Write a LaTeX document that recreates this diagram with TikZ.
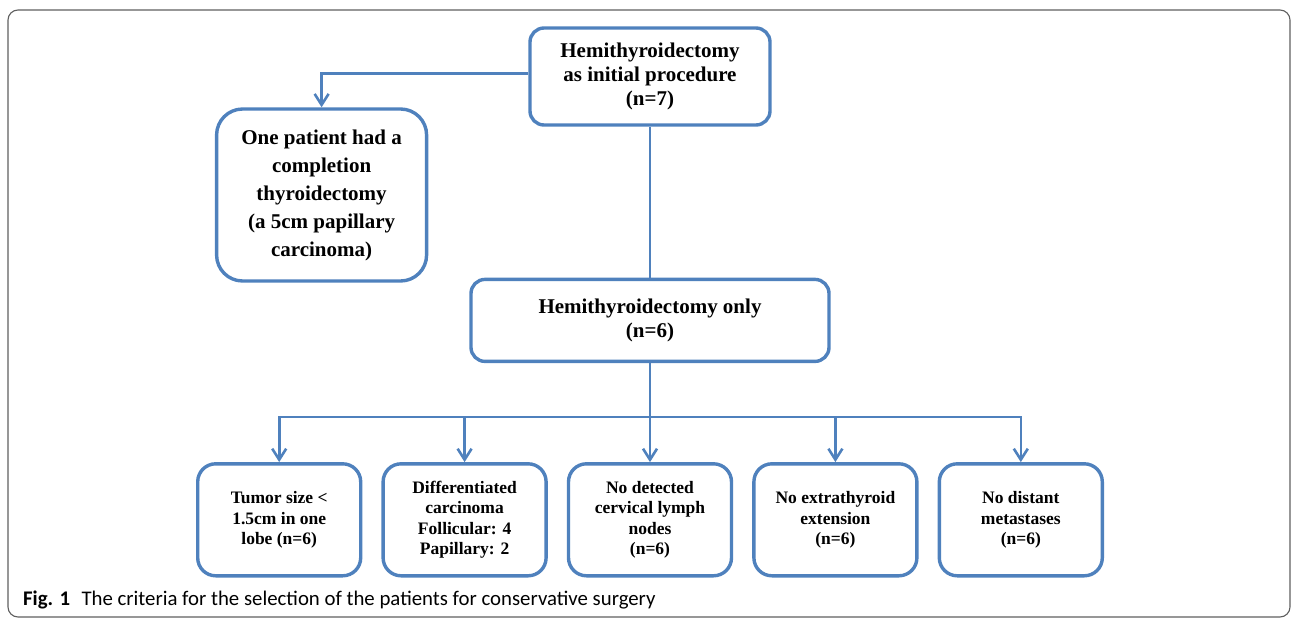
\documentclass[tikz,border=0pt]{standalone}
\usepackage{fontspec}
\setmainfont{Liberation Serif}
\newfontfamily\capfont{Carlito}
\usetikzlibrary{positioning, arrows.meta}

\definecolor{boxblue}{RGB}{79,129,189}
\definecolor{framegray}{RGB}{95,95,95}

\tikzset{
    box/.style={draw=boxblue, line width=3.4pt, rounded corners=14pt, fill=white,
        align=center, inner sep=0pt, font=\bfseries\fontsize{21}{24}\selectfont},
    smallbox/.style={box, minimum width=163pt, minimum height=112pt, rounded corners=18pt,
        font=\bfseries\fontsize{17.5}{20.5}\selectfont},
    link/.style={draw=boxblue, line width=2.6pt},
}

\begin{document}
\begin{tikzpicture}[x=1pt, y=-1pt, >={Straight Barb[length=11pt,width=14pt]}]
        \useasboundingbox (0,0) rectangle (1293,618);
        \draw[framegray, line width=1.1pt, rounded corners=10pt] (8,10) rectangle (1290,617);

        \node[box, minimum width=240pt, minimum height=97pt](top) at (650,76.5){Hemithyroidectomy\\as initial procedure\\(n=7)};
        \node[box, minimum width=358pt, minimum height=82pt, below = 151pt of top](only){Hemithyroidectomy only\\(n=6)};
        \node[box, minimum width=210pt, minimum height=172pt, rounded corners=26pt,
            font=\bfseries\fontsize{21}{28}\selectfont, above left = -5pt and 41pt of only](left){One patient had a\\completion\\thyroidectomy\\(a 5cm papillary\\carcinoma)};

        \node[smallbox, below = 99pt of only](c3){No detected\\cervical lymph\\nodes\\(n=6)};
        \node[smallbox, left = 19pt of c3](c2){Differentiated\\carcinoma\\Follicular: 4\\Papillary: 2};
        \node[smallbox, left = 19pt of c2](c1){Tumor size <\\1.5cm in one\\lobe (n=6)};
        \node[smallbox, right = 19pt of c3](c4){No extrathyroid\\extension\\(n=6)};
        \node[smallbox, right = 19pt of c4](c5){No distant\\metastases\\(n=6)};

        \coordinate[below = 54pt of only](split);

        \node[anchor=base west, inner sep=0pt](cap) at (23,605){\capfont\fontsize{20.8}{22}\selectfont\textbf{Fig. 1}\hspace{0.55em}The criteria for the selection of the patients for conservative surgery};

        \draw[link, ->]([yshift=3pt]top.west) -| (left);
        \draw[link](top) -- (only);
        \draw[link, ->](only) -- (c3);
        \draw[link, ->](split) -| (c1);
        \draw[link, ->](split) -| (c2);
        \draw[link, ->](split) -| (c4);
        \draw[link, ->](split) -| (c5);

    \end{tikzpicture}
\end{document}
